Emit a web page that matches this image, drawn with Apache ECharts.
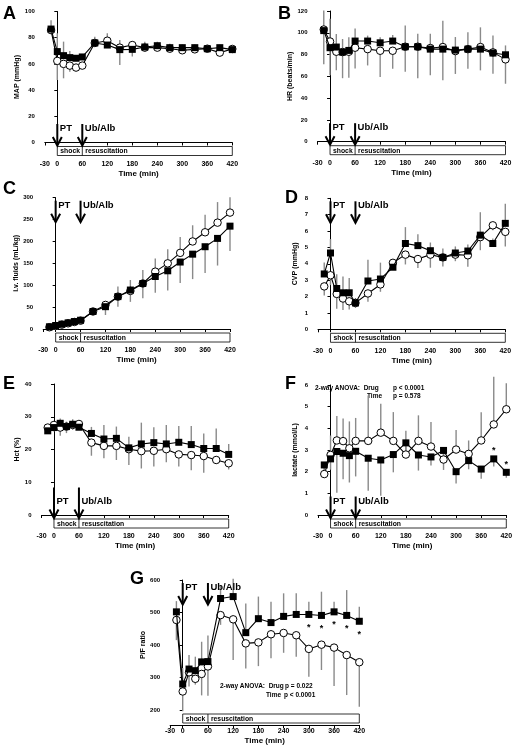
<!DOCTYPE html>
<html><head><meta charset="utf-8">
<script src="https://cdn.jsdelivr.net/npm/echarts@6/dist/echarts.min.js"></script>
<style>html,body{margin:0;padding:0;background:#fff}#c{width:516px;height:750px}</style>
</head><body><div id="c"></div>
<script>
// ---- data ----
const times = [-15,0,15,30,45,60,90,120,150,180,210,240,270,300,330,360,390,420];
const xTicks = [-30,0,60,120,180,240,300,360,420];

// A: MAP
const mapSq    = [86.6,69.4,66.3,64.8,64.3,65.3,76,74.4,70.9,71.1,72.9,73.9,72.4,72.4,72.4,71.6,72.4,70.9];
const mapCi    = [85.8,62.3,60,58.7,57.2,58.7,76,77.7,72.4,74.4,72.4,72.4,71.6,70.4,71.1,71.6,68.6,71.4];
const mapSqErr = [6.8,14,10.7,5,2,2,4.8,9,7.3,6,4,3,3,2.5,2.5,2.5,2.5,2];
const mapCiErr = [3,14.5,11,4.7,2,2,3,5,13.2,8.8,3,2,2,2,2,2,2,2];
// B: HR
const hrSq    = [102,86.3,86.9,82.3,83.8,92.4,92.4,90.8,92.4,87.2,87.2,85,85,84.1,85,85,81.4,79.8];
const hrCi    = [103,92,82.6,82.3,82.6,86.3,85,83.5,83.5,87.2,87.2,86,86.9,83.2,85,86.9,82,75.6];
const hrSqErr = [18.5,26.5,12,12,12,11.6,5,5,5.6,19.5,12,14,26,12,15.6,20,16,8.6];
const hrCiErr = [32,31,17,24,24,19,15,24,16.5,23,29,25,30.5,21,18,21.4,19.6,22.4];
// C: i.v. fluids
const ivSq    = [5,8,11,14,17,20,40,51,74,89,104,120,133,153,171,188,207,235];
const ivCi    = [4,7,10,13,16,19,40,55,74,87,104,131,150,174,200,221,243,266];
const ivSqErr = [1,1,1,1,2,2,8,19,23,27,34,37,45,48,57,60,62,57];
const ivCiErr = [1,1,1,1,1,2,5,7,23,25,31,30,32,36,37,40,47,35];
// D: CVP
const cvpSq    = [3.38,4.66,2.49,2.23,2.23,1.61,2.95,3.07,3.79,5.24,5.11,4.8,4.39,4.66,4.78,5.75,5.24,6.47];
const cvpCi    = [2.62,3.3,2.16,1.88,1.71,1.61,2.19,2.74,4.06,4.56,4.29,4.56,4.39,4.56,4.52,5.63,6.35,5.95];
const cvpSqErr = [0.7,0.85,0.87,1.0,0.9,0.3,1.3,1.0,0.3,1.0,0.7,0.5,0.55,0.4,0.4,1.4,0.3,1.2];
const cvpCiErr = [0.55,0.6,0.9,0.7,0.5,0.3,0.5,0.45,0.3,0.6,0.55,0.8,0.55,0.4,0.7,0.8,0.3,0.9];
// E: Hct
const hctSq    = [25.7,26.7,28,27,27.7,26.8,24.9,23.2,23.4,20.5,21.7,22.1,21.7,22.2,21.5,20.3,20.3,18.5];
const hctCi    = [26.7,27.5,26.7,27,27.5,27.8,22.1,21.1,21.1,20.1,19.5,19.6,20.1,18.5,18.3,18,16.8,15.8];
const hctSqErr = [1.5,1.5,1.5,1.5,1.5,1,2,4.3,3.6,3.4,6.5,4.7,5.8,5,5.7,4.6,6.1,3.2];
const hctCiErr = [1.5,2,2.5,2,1.5,1,4,3.8,4.3,4.8,5.3,4.8,4,3.7,4.6,5.1,1,1.9];
// F: lactate
const lacSq    = [2.31,2.59,2.93,2.85,2.74,2.94,2.62,2.54,2.79,3.33,2.77,2.68,2.98,2.0,2.51,2.12,2.59,1.97];
const lacCi    = [1.89,2.77,3.44,3.41,3.08,3.42,3.42,3.8,3.42,2.79,3.42,3.16,2.56,3.02,2.82,3.44,4.18,4.88];
const lacSqErr = [0.5,0.5,1.9,1.2,1.24,1.16,1.5,1.65,0.82,0.4,0.72,0.4,0.9,0.55,0.4,0.45,0.35,0.25];
const lacCiErr = [0.4,0.9,1.13,1.04,1.24,1.06,2.1,1.34,1.33,1.1,1.18,1.13,0.5,0.9,0.62,1.3,2.2,1.2];
const lacStars = [390,420];
// G: P/F ratio
const pfSq    = [502,280,326,321,348,349,543,549,438,481,469,488,494,494,491,502,491,473];
const pfCi    = [477,257,316,296,311,334,492,479,405,408,433,437,430,388,401,392,369,347];
const pfSqErr = [33,49,43,43,62,80,41,55,90,68,64,71,65,39,73,31,78,45];
const pfCiErr = [62,61,44,18,66,90,30,125,77,73,74,61,66,86,78,118,123,137];
const pfStars = [300,330,360,390,420];

// ---- layout / style ----
const FONT = '"Liberation Sans", Arial, sans-serif';
const BLACK = '#000';
const GREY = '#8a8a8a';

const panels = [
  {L:'A', lp:[3,5],   grid:{left:44.8,top:11.5,width:187.5,height:131}, yMin:0,yMax:100,yInt:20, yName:'MAP (mmHg)',
   sq:mapSq, ci:mapCi, sqErr:mapSqErr, ciErr:mapCiErr, sqUp:true, arrows:'bottom'},
  {L:'B', lp:[278,5], grid:{left:317.5,top:11,width:188,height:130.7}, yMin:0,yMax:120,yInt:20, yName:'HR (beats/min)',
   sq:hrSq, ci:hrCi, sqErr:hrSqErr, ciErr:hrCiErr, sqUp:true, arrows:'bottom'},
  {L:'C', lp:[3,180], grid:{left:43.2,top:197.7,width:186.8,height:131.3}, yMin:0,yMax:300,yInt:50, yName:'i.v. fluids (mL/kg)',
   sq:ivSq, ci:ivCi, sqErr:ivSqErr, ciErr:ivCiErr, sqUp:false, arrows:'top'},
  {L:'D', lp:[285,189], grid:{left:318,top:198.3,width:187.3,height:131}, yMin:0,yMax:8,yInt:1, yName:'CVP (mmHg)',
   sq:cvpSq, ci:cvpCi, sqErr:cvpSqErr, ciErr:cvpCiErr, sqUp:true, arrows:'top'},
  {L:'E', lp:[3,375], grid:{left:41.5,top:384,width:187.2,height:131}, yMin:0,yMax:40,yInt:10, yName:'Hct (%)',
   sq:hctSq, ci:hctCi, sqErr:hctSqErr, ciErr:hctCiErr, sqUp:true, arrows:'bottom', arrowLen:31},
  {L:'F', lp:[285,375], grid:{left:318,top:385,width:188.3,height:130}, yMin:0,yMax:6,yInt:1, yName:'lactate (mmol/L)',
   sq:lacSq, ci:lacCi, sqErr:lacSqErr, ciErr:lacCiErr, sqUp:false, arrows:'bottom', stars:lacStars, starDy:-8},
  {L:'G', lp:[130,570], grid:{left:170.1,top:580,width:189.2,height:130}, yMin:200,yMax:600,yInt:100, yName:'P/F ratio',
   sq:pfSq, ci:pfCi, sqErr:pfSqErr, ciErr:pfCiErr, sqUp:true, arrows:'top', stars:pfStars, starDy:13}
];

const grids=[], xAxes=[], yAxes=[], series=[];
const txt = (size)=>({fontFamily:FONT, fontWeight:'bold', fontSize:size, color:BLACK});

function errRender(dir){
  return function(params, api){
    const x=api.value(0), y=api.value(1), e=api.value(2);
    const p1=api.coord([x,y]), p2=api.coord([x,y+dir*e]);
    return {type:'line', shape:{x1:p1[0],y1:p1[1],x2:p2[0],y2:p2[1]}, style:{stroke:GREY,lineWidth:1.4}};
  };
}

function annotRender(p){
  return function(params, api){
    const b0=api.coord([0,p.yMin]), b60=api.coord([60,p.yMin]), b420=api.coord([420,p.yMin]);
    const topY=api.coord([0,p.yMax])[1];
    const by=b0[1]+4, bh=9;
    const ch=[
      {type:'rect', shape:{x:b0[0],y:by,width:b420[0]-b0[0],height:bh}, style:{fill:'#fff',stroke:BLACK,lineWidth:0.8}},
      {type:'line', shape:{x1:b60[0],y1:by,x2:b60[0],y2:by+bh}, style:{stroke:BLACK,lineWidth:0.8}},
      {type:'text', x:b0[0]+3, y:by+bh/2+0.5, style:{text:'shock',fontFamily:FONT,fontWeight:'bold',fontSize:6.8,fill:BLACK,verticalAlign:'middle'}},
      {type:'text', x:b60[0]+3, y:by+bh/2+0.5, style:{text:'resuscitation',fontFamily:FONT,fontWeight:'bold',fontSize:6.8,fill:BLACK,verticalAlign:'middle'}}
    ];
    const len=p.arrowLen||22;
    let a1,a2,t1;
    if(p.arrows==='bottom'){a2=by-0.5; a1=a2-len; t1=a2-22;} else {a1=topY+3; a2=a1+len; t1=a1;}
    [[b0[0],'PT'],[b60[0],'Ub/Alb']].forEach(([x,label])=>{
      ch.push({type:'line', shape:{x1:x,y1:a1,x2:x,y2:a2-1}, style:{stroke:BLACK,lineWidth:2}});
      ch.push({type:'polyline', shape:{points:[[x-4.5,a2-9],[x,a2-0.5],[x+4.5,a2-9]]}, style:{stroke:BLACK,lineWidth:2,fill:null}});
      ch.push({type:'text', x:x+2.5, y:t1-0.5, style:{text:label,fontFamily:FONT,fontWeight:'bold',fontSize:9.5,fill:BLACK,verticalAlign:'top'}});
    });
    return {type:'group', children:ch};
  };
}

function starRender(dy){
  return function(params, api){
    const p=api.coord([api.value(0),api.value(1)]);
    return {type:'text', x:p[0], y:p[1]+dy, style:{text:'*',fontFamily:FONT,fontWeight:'bold',fontSize:9,fill:BLACK,align:'center',verticalAlign:'middle'}};
  };
}

panels.forEach((p,i)=>{
  grids.push(Object.assign({containLabel:false}, p.grid));
  xAxes.push({gridIndex:i, type:'value', min:-30, max:420, interval:30, offset:15,
    axisLine:{show:true,lineStyle:{color:BLACK,width:1}},
    axisTick:{show:true,length:3,customValues:xTicks,lineStyle:{color:BLACK,width:1}},
    axisLabel:Object.assign({customValues:xTicks, margin:3}, txt(7)),
    splitLine:{show:false},
    name:'Time (min)', nameLocation:'middle', nameGap:12, nameTextStyle:txt(8)});
  yAxes.push({gridIndex:i, type:'value', min:p.yMin, max:p.yMax, interval:p.yInt, offset:6,
    axisLine:{show:true,lineStyle:{color:BLACK,width:1}},
    axisTick:{show:true,length:3,lineStyle:{color:BLACK,width:1}},
    axisLabel:Object.assign({margin:4}, txt(6)),
    splitLine:{show:false},
    name:p.yName, nameLocation:'middle', nameGap:13, nameTextStyle:txt(7)});
  const sqData=times.map((t,k)=>[t,p.sq[k]]);
  const ciData=times.map((t,k)=>[t,p.ci[k]]);
  series.push({type:'custom', xAxisIndex:i, yAxisIndex:i, z:1, silent:true,
    data:times.map((t,k)=>[t,p.ci[k],p.ciErr[k]]), renderItem:errRender(p.sqUp?-1:1)});
  series.push({type:'custom', xAxisIndex:i, yAxisIndex:i, z:1, silent:true,
    data:times.map((t,k)=>[t,p.sq[k],p.sqErr[k]]), renderItem:errRender(p.sqUp?1:-1)});
  series.push({type:'line', xAxisIndex:i, yAxisIndex:i, z:3, data:ciData, symbol:'circle', symbolSize:7.5,
    itemStyle:{color:'#fff',borderColor:BLACK,borderWidth:1}, lineStyle:{color:BLACK,width:1.1}, clip:false});
  series.push({type:'line', xAxisIndex:i, yAxisIndex:i, z:4, data:sqData, symbol:'rect', symbolSize:7,
    itemStyle:{color:BLACK}, lineStyle:{color:BLACK,width:1.1}, clip:false});
  series.push({type:'custom', xAxisIndex:i, yAxisIndex:i, z:5, silent:true, data:[[0,p.yMin]], renderItem:annotRender(p)});
  if(p.stars){
    series.push({type:'custom', xAxisIndex:i, yAxisIndex:i, z:5, silent:true,
      data:p.stars.map(t=>[t,p.sq[times.indexOf(t)]]), renderItem:starRender(p.starDy)});
  }
});

const letters = panels.map(p=>({type:'text', left:p.lp[0], top:p.lp[1],
  style:{text:p.L, fontFamily:FONT, fontWeight:'bold', fontSize:18, fill:BLACK}}));
const small = (x,y,t)=>({type:'text', left:x, top:y, style:{text:t,fontFamily:FONT,fontWeight:'bold',fontSize:6.5,fill:BLACK}});
const anova = [
  small(315,385,'2-way ANOVA:  Drug'), small(393,385,'p < 0.0001'),
  small(367,393,'Time'), small(393,393,'p = 0.578'),
  small(220,683,'2-way ANOVA:  Drug'), small(285,683,'p = 0.022'),
  small(266,692,'Time'), small(284,692,'p < 0.0001')
];

const chart = echarts.init(document.getElementById('c'), null, {renderer:'canvas'});
chart.setOption({
  animation:false, backgroundColor:'#fff',
  grid:grids, xAxis:xAxes, yAxis:yAxes, series:series,
  graphic:letters.concat(anova)
});
</script></body></html>
